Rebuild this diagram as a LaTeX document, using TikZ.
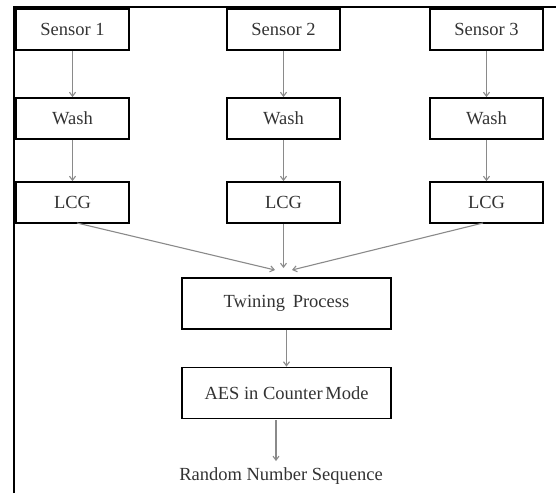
\documentclass[tikz,border=0pt]{standalone}
\usepackage{fontspec}
\setmainfont{Liberation Serif}
\usetikzlibrary{arrows.meta}
\definecolor{txtgray}{HTML}{333333}
\definecolor{arrgray}{HTML}{8A8A8A}
\tikzset{
  blk/.style={draw=black, line width=1.8pt, minimum height=41pt, inner sep=0pt,
              font=\fontsize{18.5}{20}\selectfont, text=txtgray},
  colbox/.style={blk, minimum width=113pt},
  bigbox/.style={blk, minimum width=209pt, minimum height=51pt},
  conn/.style={draw=arrgray, line width=1.1pt, -{Straight Barb[length=4pt,width=6pt]}},
  frame/.style={draw=black, line width=1.6pt}
}
\begin{document}
\begin{tikzpicture}[x=1pt,y=-1pt]
\useasboundingbox (0,0) rectangle (556,493);
\coordinate (f1) at (14,493);
\coordinate (f2) at (14,7);
\coordinate (f3) at (556,7);
\draw[frame] (f1) -- (f2) -- (f3);

\node[colbox] (s1) at (72.5,29.5) {Sensor 1};
\node[colbox] (w1) at (72.5,118.5) {Wash};
\node[colbox] (l1) at (72.5,202.5) {LCG};

\node[colbox] (s2) at (283.5,29.5) {Sensor 2};
\node[colbox] (w2) at (283.5,118.5) {Wash};
\node[colbox] (l2) at (283.5,202.5) {LCG};

\node[colbox] (s3) at (486.5,29.5) {Sensor 3};
\node[colbox] (w3) at (486.5,118.5) {Wash};
\node[colbox] (l3) at (486.5,202.5) {LCG};

\node[bigbox] (tw) at (286.5,303.5) {Twining\, Process};
\node[bigbox] (aes) at (286.5,393) {AES in Counter\hspace{-2pt} Mode};
\node[font=\fontsize{18.5}{20}\selectfont, text=txtgray, inner sep=0pt] (rns) at (281,476) {Random Number Sequence};

\foreach \c in {1,2,3}{
  \draw[conn] (s\c) -- (w\c);
  \draw[conn] (w\c) -- (l\c);
}
\coordinate (in1) at (275,270);
\coordinate (in2) at (283.5,268);
\coordinate (in3) at (292,270);
\coordinate (l1o) at (77,223);
\coordinate (l3o) at (483,223);
\draw[conn] (l1o) -- (in1);
\draw[conn] (l2) -- (in2);
\draw[conn] (l3o) -- (in3);
\draw[conn] (tw.south) -- (aes.north);
\coordinate (aout) at (276,420);
\coordinate (rin) at (276,461);
\draw[conn] (aout) -- (rin);
\end{tikzpicture}
\end{document}
